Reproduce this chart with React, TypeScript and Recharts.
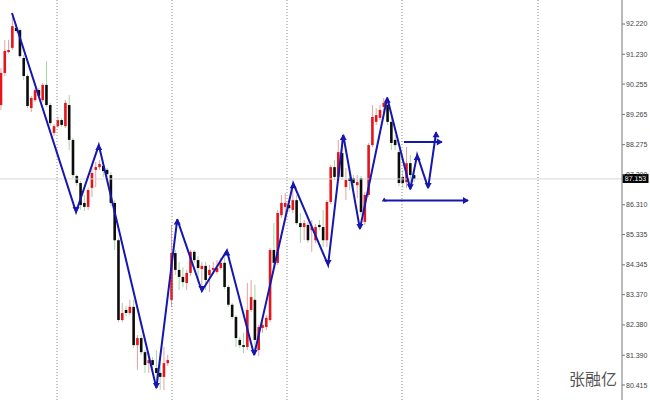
import { ComposedChart, Bar, Line, XAxis, YAxis, ReferenceLine } from 'recharts'

// candles, oldest first (H4-style price series)
const opens = [
  89.57, 90.62, 91.3, 91.44, 92.09, 92.02, 91.11, 90.52, 89.47, 89.73,
  90.06, 89.73, 90.23, 89.57, 88.66, 88.88, 89.08, 88.88, 89.57, 88.43,
  87.25, 87.02, 86.37, 86.24, 86.86, 87.45, 87.54, 87.58, 87.45, 87.28,
  86.37, 85.15, 82.54, 82.87, 82.77, 82.97, 81.72, 81.95, 81.49, 81.13,
  81.23, 80.97, 80.81, 80.68, 81.13, 83.2, 84.73, 84.18, 83.95, 83.75,
  84.08, 84.77, 84.5, 84.21, 84.31, 84.01, 84.18, 84.11, 84.24, 84.41,
  83.62, 83.04, 82.64, 81.89, 81.72, 81.66, 82.87, 83.2, 81.56, 82.28,
  82.31, 82.54, 84.83, 84.41, 85.97, 86.24, 86.3, 86.14, 86.46, 85.71,
  85.58, 85.65, 85.48, 85.15, 85.65, 85.58, 85.15, 86.4, 87.54, 87.22,
  88.0, 86.89, 87.18, 87.18, 86.95, 87.18, 85.75, 86.63, 88.26, 89.02,
  89.15, 89.51, 89.57, 89.02, 88.43, 88.03, 87.22, 87.05, 87.67, 87.28,
]
const highs = [
  90.78, 91.7, 91.7, 92.45, 92.22, 92.09, 91.21, 90.58, 89.87, 90.13,
  90.13, 90.29, 91.01, 89.64, 88.95, 89.18, 89.15, 89.73, 89.9, 88.49,
  87.31, 87.09, 86.63, 86.86, 87.54, 87.71, 87.77, 87.67, 87.51, 87.38,
  86.46, 85.22, 83.1, 83.0, 83.2, 83.2, 82.05, 82.05, 81.56, 81.46,
  81.33, 81.56, 81.33, 81.66, 81.4, 85.65, 84.83, 84.44, 84.27, 84.18,
  84.83, 84.83, 84.63, 84.44, 84.44, 84.34, 84.44, 84.5, 84.57, 84.77,
  83.69, 83.1, 82.7, 81.99, 82.12, 83.75, 83.85, 83.69, 82.38, 82.54,
  82.7, 84.9, 85.71, 86.14, 86.63, 86.69, 86.46, 86.79, 86.63, 86.04,
  85.81, 85.75, 85.81, 85.68, 85.81, 86.14, 86.46, 87.61, 87.77, 88.43,
  88.43, 87.51, 87.45, 87.28, 87.28, 87.25, 86.73, 88.33, 89.57, 89.47,
  89.57, 89.8, 89.83, 89.34, 88.59, 88.1, 87.45, 88.2, 87.94, 87.51,
]
const lows = [
  89.41, 90.52, 91.27, 91.37, 91.93, 91.11, 90.39, 89.47, 89.34, 89.67,
  89.8, 89.67, 89.51, 88.88, 88.56, 88.82, 88.85, 88.82, 88.1, 87.18,
  86.92, 86.14, 86.11, 86.14, 86.56, 86.89, 87.45, 87.22, 87.22, 86.27,
  84.83, 82.47, 82.47, 82.67, 82.7, 81.63, 80.91, 81.4, 80.81, 80.81,
  80.97, 80.35, 80.25, 80.25, 81.04, 82.97, 84.01, 83.52, 83.62, 83.52,
  83.98, 84.41, 83.75, 83.52, 83.52, 83.46, 84.08, 84.05, 84.18, 83.55,
  82.97, 82.57, 81.66, 81.63, 81.46, 81.56, 82.8, 81.56, 81.36, 82.12,
  82.21, 82.47, 84.31, 84.34, 85.88, 85.91, 86.07, 86.04, 85.65, 85.06,
  85.15, 85.06, 84.77, 85.06, 85.48, 84.93, 84.93, 86.33, 87.12, 87.12,
  87.12, 86.46, 86.79, 86.79, 86.53, 85.97, 85.65, 86.56, 88.2, 88.92,
  89.08, 89.34, 88.92, 88.1, 88.1, 86.92, 86.86, 86.86, 86.95, 87.05,
]
const closes = [
  90.62, 91.34, 91.37, 92.15, 91.99, 91.17, 90.52, 89.54, 89.8, 90.06,
  89.87, 90.23, 89.57, 88.98, 88.88, 89.08, 88.92, 89.64, 88.43, 87.28,
  87.02, 86.3, 86.24, 86.79, 87.35, 87.54, 87.64, 87.41, 87.31, 86.37,
  85.15, 82.54, 82.77, 82.77, 82.97, 81.72, 81.95, 81.49, 81.07, 81.23,
  81.07, 80.81, 80.68, 81.13, 81.23, 84.73, 84.18, 83.95, 83.78, 84.08,
  84.77, 84.5, 84.24, 84.31, 83.85, 84.18, 84.24, 84.24, 84.41, 83.62,
  83.04, 82.64, 81.95, 81.72, 81.66, 82.87, 83.29, 81.89, 82.31, 82.38,
  82.61, 84.83, 84.41, 86.04, 86.37, 86.37, 86.2, 86.46, 85.71, 85.58,
  85.71, 85.15, 85.58, 85.58, 85.58, 85.15, 86.4, 87.54, 87.22, 88.03,
  87.22, 87.12, 87.09, 87.02, 87.05, 86.07, 86.63, 88.26, 89.18, 89.24,
  89.41, 89.64, 89.02, 88.33, 88.26, 87.02, 87.02, 87.67, 87.28, 87.153,
]

// hand drawn wave lines
const zigX = [2.9, 19.8, 25.8, 41.0, 46.5, 53.0, 59.6, 66.8, 77.1, 86.3, 90.3, 94.7, 101.9, 108.0, 109.8, 112.7, 114.8]
const zigP = [92.58, 86.07, 88.26, 80.32, 85.83, 83.49, 84.81, 81.4, 87.01, 84.34, 88.59, 85.52, 89.81, 86.82, 87.94, 86.86, 88.68]
const upperX = [106.3, 116.3]
const upperP = 88.36
const lowerX = [101.1, 123.2]
const lowerP = 86.45

const yTicks = [92.22, 91.23, 90.255, 89.265, 88.275, 87.29, 86.31, 85.335, 84.345, 83.37, 82.38, 81.39, 80.415]
const separators = [14.78, 45.12, 75.46, 105.8, 141.7]
const lastPrice = 87.153

const candles = opens.map((open, i) => ({ i, open, high: highs[i], low: lows[i], close: closes[i] }))
const zigzag = zigX.map((i, k) => ({ i, p: zigP[k] }))
const upper = upperX.map((i) => ({ i, p: upperP }))
const lower = lowerX.map((i) => ({ i, p: lowerP }))

const BLUE = '#1616b0'

function Candle(props: any) {
  const { x, y, width, height, payload } = props
  const { open, close, high, low } = payload
  const top0 = Math.min(y, y + height)
  const h = Math.abs(height)
  const toY = (v: number) => (high === low ? top0 : top0 + ((high - v) / (high - low)) * h)
  const cx = x + width / 2
  const up = close >= open
  const bt = toY(Math.max(open, close))
  const bb = toY(Math.min(open, close))
  return (
    <g>
      <line x1={cx} x2={cx} y1={top0} y2={top0 + h} stroke={up ? '#e7a0a0' : '#a4d6a4'} strokeWidth={1} />
      <rect x={cx - 1.3} y={bt} width={2.6} height={Math.max(bb - bt, 1)} fill={up ? '#e3161b' : '#0c0c0c'} />
    </g>
  )
}

function ZigDot(props: any) {
  const { cx, cy, index } = props
  if (index === 0 || cx == null) return <g key={`z${index}`} />
  const prev = zigP[index - 1]
  const peak = zigP[index] > prev
  const pts = peak
    ? `${cx},${cy - 1} ${cx - 3.5},${cy + 5} ${cx + 3.5},${cy + 5}`
    : `${cx},${cy + 1} ${cx - 3.5},${cy - 5} ${cx + 3.5},${cy - 5}`
  return <polygon key={`z${index}`} points={pts} fill={BLUE} />
}

function RightArrow(props: any) {
  const { cx, cy, index } = props
  if (index === 0) return <g key={`r${index}`} />
  return <polygon key={`r${index}`} points={`${cx + 1},${cy} ${cx - 5},${cy - 3.5} ${cx - 5},${cy + 3.5}`} fill={BLUE} />
}

function LowerArrow(props: any) {
  const { cx, cy, index } = props
  if (index === 0) return <polygon key="l0" points={`${cx},${cy - 3} ${cx - 2.5},${cy + 1} ${cx + 2.5},${cy + 1}`} fill={BLUE} />
  return <polygon key={`l${index}`} points={`${cx + 1},${cy} ${cx - 5},${cy - 3.5} ${cx - 5},${cy + 3.5}`} fill={BLUE} />
}

function PriceTag(props: any) {
  const { viewBox } = props
  if (!viewBox) return null
  const x = viewBox.x + viewBox.width
  const y = viewBox.y
  return (
    <g>
      <rect x={x + 0.5} y={y - 5} width={26} height={9} fill="#000" />
      <text x={x + 13.5} y={y + 2.5} textAnchor="middle" fontSize={7} fill="#fff" fontFamily="Liberation Sans, Arial, sans-serif">
        {lastPrice.toFixed(3)}
      </text>
    </g>
  )
}

export default function App() {
  return (
    <div style={{ position: 'absolute', left: 0, top: 0, width: 650, height: 400, background: '#fff' }}>
      <ComposedChart width={650} height={400} data={candles} margin={{ top: 0, right: 0, bottom: 0, left: 0 }}>
        <XAxis type="number" dataKey="i" domain={[-0.264, 163.85]} allowDataOverflow hide />
        <YAxis
          orientation="right"
          width={28}
          domain={[79.925, 93.005]}
          ticks={yTicks}
          interval={0}
          allowDataOverflow
          tickFormatter={(v: number) => v.toFixed(3)}
          tick={{ fontSize: 7, fill: '#444', fontFamily: 'Liberation Sans, Arial, sans-serif' }}
          tickSize={3}
          tickMargin={1}
          stroke="#777"
        />
        {separators.map((s) => (
          <ReferenceLine key={s} x={s} stroke="#8a8a8a" strokeDasharray="1 2" />
        ))}
        <ReferenceLine y={lastPrice} stroke="#d6d6d6" label={(p: any) => <PriceTag {...p} />} />
        <Bar dataKey={(d: any) => [d.low, d.high]} barSize={2} shape={<Candle />} isAnimationActive={false} />
        <Line data={zigzag} dataKey="p" stroke={BLUE} strokeWidth={2} dot={ZigDot} activeDot={false} isAnimationActive={false} />
        <Line data={upper} dataKey="p" stroke={BLUE} strokeWidth={2} dot={RightArrow} activeDot={false} isAnimationActive={false} />
        <Line data={lower} dataKey="p" stroke={BLUE} strokeWidth={2} dot={LowerArrow} activeDot={false} isAnimationActive={false} />
      </ComposedChart>
      <div style={{ position: 'absolute', left: 569, top: 369, fontSize: 16, lineHeight: '18px', color: '#555', fontFamily: 'Noto Sans CJK SC' }}>
        张融亿
      </div>
    </div>
  )
}
